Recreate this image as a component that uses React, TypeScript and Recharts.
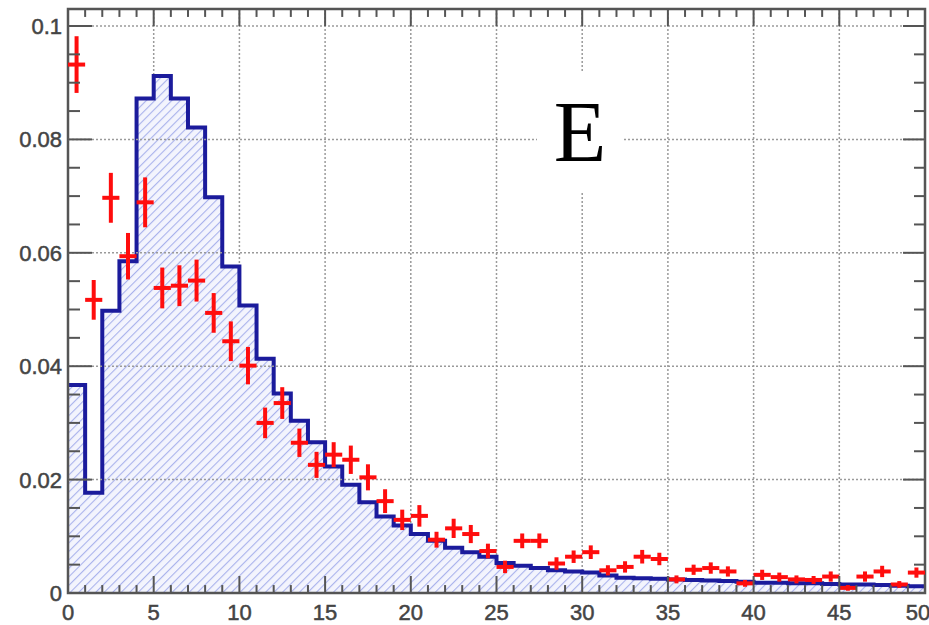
import React from 'react';
import {
  ComposedChart,
  Area,
  Scatter,
  ErrorBar,
  XAxis,
  YAxis,
  CartesianGrid,
  ReferenceLine,
  ReferenceArea,
} from 'recharts';

// simulated distribution, one value per unit bin from 0 to 50
const MC_BINS = [
  0.0367, 0.0177, 0.0498, 0.0585, 0.0872, 0.0912, 0.0872, 0.0821, 0.0698, 0.0576,
  0.0507, 0.0413, 0.0352, 0.0304, 0.0266, 0.0223, 0.0191, 0.016, 0.0135, 0.0119,
  0.0104, 0.0092, 0.008, 0.0072, 0.0064, 0.0053, 0.0048, 0.0044, 0.004, 0.0038,
  0.0036, 0.0031, 0.0027, 0.0026, 0.0025, 0.0024, 0.0023, 0.0022, 0.0021, 0.002,
  0.0018, 0.0018, 0.0017, 0.0017, 0.0016, 0.0015, 0.0015, 0.0014, 0.0013, 0.0012,
];

// measured points at bin centres, with their vertical errors
const DATA_Y = [
  0.0932, 0.0517, 0.0697, 0.0594, 0.0689, 0.0538, 0.0542, 0.0551, 0.0494, 0.0444,
  0.0401, 0.03, 0.0335, 0.0265, 0.0226, 0.0244, 0.0235, 0.0204, 0.0162, 0.0129,
  0.0136, 0.0094, 0.0114, 0.0104, 0.0074, 0.0046, 0.0092, 0.0092, 0.0052, 0.0064,
  0.0072, 0.004, 0.0046, 0.0064, 0.006, 0.0024, 0.0041, 0.0044, 0.0038, 0.0017,
  0.0032, 0.0028, 0.0024, 0.0023, 0.0029, 0.0009, 0.0029, 0.0038, 0.0015, 0.0036,
];
const DATA_ERR = [
  0.005, 0.0035, 0.0044, 0.0041, 0.0044, 0.0036, 0.0036, 0.0037, 0.0035, 0.0035,
  0.0033, 0.0027, 0.0028, 0.0025, 0.0023, 0.0022, 0.0025, 0.0023, 0.0021, 0.0018,
  0.0019, 0.0014, 0.0017, 0.0016, 0.0013, 0.0011, 0.0013, 0.0013, 0.0011, 0.0011,
  0.0012, 0.0009, 0.001, 0.0012, 0.0011, 0.0007, 0.0009, 0.001, 0.0009, 0.0006,
  0.0009, 0.0008, 0.0007, 0.0007, 0.0009, 0.0005, 0.0009, 0.001, 0.0006, 0.0009,
];

const X_TICKS = [0, 5, 10, 15, 20, 25, 30, 35, 40, 45, 50];
const Y_TICKS = [0, 0.02, 0.04, 0.06, 0.08, 0.1];
const X_MAX = 50;
const Y_MAX = 0.103;

const W = 929;
const H = 625;
const FRAME = '#555';
const GRID = '#9a9a9a';
const BLUE = '#1b1b9c';
const RED = '#ff0d0d';
const FONT = 'Liberation Sans, Arial, sans-serif';

// step series: value of bin i sits at its left edge; last edge repeats
const histData = [
  ...MC_BINS.map((h, i) => ({ x: i, h })),
  { x: X_MAX, h: MC_BINS[MC_BINS.length - 1] },
];

const points = DATA_Y.map((y, i) => ({ x: i + 0.5, y, ey: DATA_ERR[i], ex: 0.5 }));

// minor ticks every unit on x, every 0.005 on y
const xMinor = Array.from({ length: X_MAX - 1 }, (_, i) => i + 1);
const yAll = Array.from({ length: 21 }, (_, i) => +(i * 0.005).toFixed(3));
const isMajorY = (v: number) => Math.round(v * 1000) % 20 === 0;

const LeftTick = (props: any) => {
  const { x, y, payload } = props;
  const v = payload.value;
  const major = isMajorY(v);
  const len = major ? 24 : 12;
  return (
    <g>
      {v > 0 && <line x1={x} x2={x + len} y1={y} y2={y} stroke={FRAME} strokeWidth={2} />}
      {major && (
        <text x={x - 6} y={y} dy="0.36em" textAnchor="end" fill="#444" stroke="#444" strokeWidth={0.5}
          fontSize={22} fontFamily={FONT}>
          {String(v)}
        </text>
      )}
    </g>
  );
};

const RightTick = (props: any) => {
  const { x, y, payload } = props;
  const v = payload.value;
  if (v <= 0) return <g />;
  const len = isMajorY(v) ? 22 : 11;
  return <line x1={x} x2={x - len} y1={y} y2={y} stroke={FRAME} strokeWidth={2} />;
};

const xTickStyle = { fill: '#444', stroke: '#444', strokeWidth: 0.5, fontSize: 22, fontFamily: FONT };

const EmptyDot = () => <g />;

export default function App() {
  return (
    <div style={{ position: 'absolute', left: 0, top: 0, width: W, height: H, background: '#fff' }}>
      <ComposedChart width={W} height={H} data={histData} margin={{ top: 9, right: 0, bottom: 0, left: 0 }}>
        <defs>
          <pattern id="hatch" width="6" height="6" patternUnits="userSpaceOnUse" patternTransform="rotate(45)">
            <rect width="6" height="6" fill="#f3f4fd" />
            <line x1="0" y1="0" x2="0" y2="6" stroke="#a9b2ec" strokeWidth="2.2" />
          </pattern>
        </defs>
        <CartesianGrid stroke={GRID} strokeDasharray="2 2" strokeWidth={1.5} horizontal={false} />
        {Y_TICKS.filter((v) => v > 0).map((v) => (
          <ReferenceLine key={`hg${v}`} y={v} stroke={GRID} strokeDasharray="2 2" strokeWidth={1.5} />
        ))}
        <XAxis
          type="number"
          dataKey="x"
          domain={[0, X_MAX]}
          ticks={X_TICKS}
          allowDataOverflow
          axisLine={false}
          tickLine={false}
          tickMargin={5}
          height={32}
          tick={xTickStyle}
        />
        <YAxis
          type="number"
          domain={[0, Y_MAX]}
          ticks={yAll}
          interval={0}
          allowDataOverflow
          axisLine={false}
          tickLine={false}
          tickSize={0}
          tickMargin={0}
          width={68}
          tick={<LeftTick />}
        />
        <YAxis
          yAxisId="r"
          orientation="right"
          type="number"
          domain={[0, Y_MAX]}
          ticks={yAll}
          interval={0}
          allowDataOverflow
          axisLine={false}
          tickLine={false}
          tickSize={0}
          tickMargin={0}
          width={4}
          tick={<RightTick />}
        />
        <Area
          type="stepAfter"
          dataKey="h"
          stroke={BLUE}
          strokeWidth={4}
          fill="url(#hatch)"
          fillOpacity={1}
          isAnimationActive={false}
          dot={false}
          activeDot={false}
        />
        <Scatter data={points} dataKey="y" shape={EmptyDot} isAnimationActive={false}>
          <ErrorBar dataKey="ey" direction="y" width={0} stroke={RED} strokeWidth={4} isAnimationActive={false} />
          <ErrorBar dataKey="ex" direction="x" width={0} stroke={RED} strokeWidth={4} isAnimationActive={false} />
        </Scatter>
        {xMinor.map((x) => {
          const len = x % 5 === 0 ? 0.003 : 0.0014;
          return (
            <React.Fragment key={`xt${x}`}>
              <ReferenceLine ifOverflow="visible" segment={[{ x, y: len }, { x, y: 0 }]} stroke={FRAME} strokeWidth={2} />
              <ReferenceLine ifOverflow="visible" segment={[{ x, y: Y_MAX - len }, { x, y: Y_MAX }]} stroke={FRAME} strokeWidth={2} />
            </React.Fragment>
          );
        })}
        <ReferenceArea x1={0} x2={X_MAX} y1={0} y2={Y_MAX} fill="none" stroke={FRAME} strokeWidth={2.5} />
      </ComposedChart>
      {/* panel letter on a white patch over the grid */}
      <div
        style={{
          position: 'absolute',
          left: 537,
          top: 72,
          width: 86,
          height: 121,
          background: '#fff',
          textAlign: 'center',
          lineHeight: '121px',
          fontSize: 86,
          fontFamily: 'Liberation Serif, Times New Roman, serif',
          color: '#000',
        }}
      >
        E
      </div>
    </div>
  );
}
